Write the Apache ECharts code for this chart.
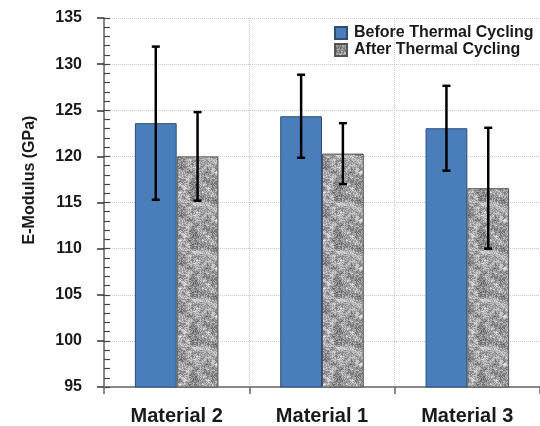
<!DOCTYPE html>
<html>
<head>
<meta charset="utf-8">
<script src="https://cdn.jsdelivr.net/npm/echarts@6/dist/echarts.min.js"></script>
<style>html,body{margin:0;padding:0;background:#fff;}#c{width:540px;height:426px;}</style>
</head>
<body>
<div id="c"></div>
<script>
const categories = ['Material 2', 'Material 1', 'Material 3'];
const beforeValues = [123.6, 124.35, 123.05];
const beforeErrors = [8.3, 4.5, 4.6];
const afterValues = [120.0, 120.3, 116.55];
const afterErrors = [4.8, 3.3, 6.55];
const yTicks = { min: 95, max: 135, interval: 5, minorInterval: 1 };
const seriesNames = ['Before Thermal Cycling', 'After Thermal Cycling'];

// deterministic granite texture
function hash(i) { const x = Math.sin(i * 12.9898 + 78.233) * 43758.5453; return x - Math.floor(x); }
function makeTexture() {
  const S = 48, C = 12, cell = S / C;
  const cv = document.createElement('canvas');
  cv.width = S; cv.height = S;
  const ctx = cv.getContext('2d');
  const img = ctx.createImageData(S, S);
  const g = (i, j) => hash(((i % C + C) % C) * 131 + ((j % C + C) % C) * 7 + 3);
  for (let y = 0; y < S; y++) {
    for (let x = 0; x < S; x++) {
      const fx = x / cell, fy = y / cell;
      const i0 = Math.floor(fx), j0 = Math.floor(fy);
      const tx = fx - i0, ty = fy - j0;
      const a = g(i0, j0), b = g(i0 + 1, j0), c = g(i0, j0 + 1), d = g(i0 + 1, j0 + 1);
      const v = (a * (1 - tx) + b * tx) * (1 - ty) + (c * (1 - tx) + d * tx) * ty;
      const f = hash(x * 977 + y * 37 + 11);
      let t = 0.5 * v + 0.5 * f;
      let gray = 80 + t * 165;
      gray = Math.max(75, Math.min(238, gray));
      const k = (y * S + x) * 4;
      img.data[k] = gray; img.data[k + 1] = gray; img.data[k + 2] = gray + 2; img.data[k + 3] = 255;
    }
  }
  ctx.putImageData(img, 0, 0);
  return cv;
}
const texture = makeTexture();

const barGapRatio = 0.425;
function errSeries(values, errors, sign) {
  return {
    type: 'custom',
    z: 10,
    silent: true,
    data: values.map((v, i) => [i, v - errors[i], v + errors[i]]),
    renderItem: function (params, api) {
      const x = api.value(0);
      const lo = api.coord([x, api.value(1)]);
      const hi = api.coord([x, api.value(2)]);
      const band = api.size([1, 0])[0];
      const cx = lo[0] + sign * band * (1 - barGapRatio) / 4;
      const cap = 4;
      const st = { stroke: '#000', lineWidth: 2.5 };
      return {
        type: 'group',
        children: [
          { type: 'line', shape: { x1: cx, y1: hi[1], x2: cx, y2: lo[1] }, style: st },
          { type: 'line', shape: { x1: cx - cap, y1: hi[1], x2: cx + cap, y2: hi[1] }, style: st },
          { type: 'line', shape: { x1: cx - cap, y1: lo[1], x2: cx + cap, y2: lo[1] }, style: st }
        ]
      };
    }
  };
}

const font = 'Liberation Sans, Arial, sans-serif';
const chart = echarts.init(document.getElementById('c'), null, { renderer: 'canvas' });
chart.setOption({
  animation: false,
  backgroundColor: '#fff',
  grid: { left: 104, top: 18, width: 437, bottom: 38 },
  legend: {
    orient: 'vertical',
    left: 329, top: 20,
    icon: 'rect',
    itemWidth: 12, itemHeight: 12, itemGap: 1,
    data: seriesNames,
    textStyle: { fontFamily: font, fontWeight: 'bold', fontSize: 16, color: '#1a1a1a', padding: [0, 0, 0, 2] }
  },
  xAxis: {
    type: 'category',
    data: categories,
    axisLine: { lineStyle: { color: '#888', width: 2 } },
    axisTick: { show: true, length: 7, lineStyle: { color: '#666', width: 1.5 } },
    axisLabel: { margin: 19, fontFamily: font, fontWeight: 'bold', fontSize: 20, color: '#1a1a1a' },
    splitLine: { show: true, lineStyle: { type: 'dotted', color: '#c8c8c8', width: 1 } }
  },
  yAxis: [{
    type: 'value', position: 'left',
    min: yTicks.min, max: yTicks.max, interval: yTicks.interval,
    axisLine: { show: true, lineStyle: { color: '#666', width: 1.5 } },
    axisTick: { show: true, inside: false, length: 7, lineStyle: { color: '#333', width: 1.5 } },
    axisLabel: { margin: 22, fontFamily: font, fontWeight: 'bold', fontSize: 16, color: '#1a1a1a' },
    splitLine: { show: true, lineStyle: { type: 'dotted', color: '#c8c8c8', width: 1 } }
  }, {
    type: 'value', position: 'left', offset: -6,
    min: yTicks.min, max: yTicks.max, interval: yTicks.minorInterval,
    axisLine: { show: false },
    axisTick: { show: true, inside: false, length: 6, lineStyle: { color: '#444', width: 1.2 } },
    axisLabel: { show: false },
    splitLine: { show: false }
  }],
  graphic: [{
    type: 'text',
    x: 30, y: 180, rotation: Math.PI / 2,
    style: {
      text: 'E-Modulus (GPa)', fontFamily: font, fontWeight: 'bold', fontSize: 16,
      fill: '#1a1a1a', align: 'center', verticalAlign: 'middle'
    }
  }],
  series: [{
    name: seriesNames[0], type: 'bar', data: beforeValues,
    barGap: '0%', barCategoryGap: (barGapRatio * 100) + '%',
    itemStyle: { color: '#4A7EBB', borderColor: '#2c4d78', borderWidth: 1 }
  }, {
    name: seriesNames[1], type: 'bar', data: afterValues,
    barGap: '0%', barCategoryGap: (barGapRatio * 100) + '%',
    itemStyle: { color: { image: texture, repeat: 'repeat' }, borderColor: '#555', borderWidth: 1 }
  },
  errSeries(beforeValues, beforeErrors, -1),
  errSeries(afterValues, afterErrors, 1)]
});
</script>
</body>
</html>
